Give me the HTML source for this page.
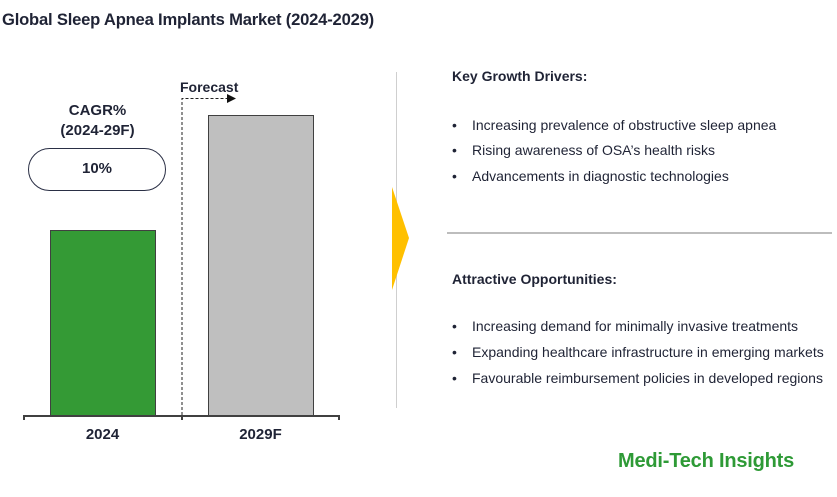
<!DOCTYPE html>
<html><head><style>
body{margin:0;width:837px;height:497px;background:#fff;font-family:"Liberation Sans",Arial,sans-serif;color:#1f2335;position:relative;overflow:hidden}
.t{position:absolute;white-space:nowrap}
.b{font-weight:bold}
.li{position:absolute;left:452px;font-size:14px;white-space:nowrap}
.li span{position:absolute;left:20px}
</style></head><body>
<div class="t b" style="left:2px;top:10px;font-size:16.6px;letter-spacing:-0.2px">Global Sleep Apnea Implants Market (2024-2029)</div>
<svg width="837" height="497" style="position:absolute;left:0;top:0">
<rect x="50.5" y="230.5" width="105" height="185" fill="#349a35" stroke="#404040" stroke-width="1"/>
<rect x="208.5" y="115.5" width="105" height="300" fill="#bfbfbf" stroke="#404040" stroke-width="1"/>
<path d="M24 420 V416 H339 V420 M182 416 V420" fill="none" stroke="#404040" stroke-width="2"/>
<path d="M182 415 V98.5 H228" fill="none" stroke="#222" stroke-width="1" stroke-dasharray="3,2"/>
<polygon points="227,94 236,98.5 227,103" fill="#111"/>
<rect x="28.5" y="148.5" width="137" height="42" rx="21" fill="#fff" stroke="#2a2f45" stroke-width="1"/>
<line x1="396.5" y1="72" x2="396.5" y2="408" stroke="#cfcfcf" stroke-width="1"/>
<polygon points="392,187 409,238 392,290" fill="#ffc000"/>
<line x1="447" y1="233" x2="832" y2="233" stroke="#bdbdbd" stroke-width="2"/>
</svg>
<div class="t b" style="left:180px;top:79px;font-size:14px">Forecast</div>
<div class="t b" style="left:50px;top:101px;width:95px;text-align:center;font-size:15px;line-height:20px">CAGR%<br>(2024-29F)</div>
<div class="t b" style="left:28px;top:160px;width:138px;text-align:center;font-size:15px">10%</div>
<div class="t b" style="left:50px;top:426px;width:105px;text-align:center;font-size:15px">2024</div>
<div class="t b" style="left:208px;top:426px;width:105px;text-align:center;font-size:15px">2029F</div>
<div class="t b" style="left:452px;top:68px;font-size:14px">Key Growth Drivers:</div>
<div class="li" style="top:117px">•<span>Increasing prevalence of obstructive sleep apnea</span></div>
<div class="li" style="top:142px">•<span>Rising awareness of OSA’s health risks</span></div>
<div class="li" style="top:168px">•<span>Advancements in diagnostic technologies</span></div>
<div class="t b" style="left:452px;top:271px;font-size:14px">Attractive Opportunities:</div>
<div class="li" style="top:318px">•<span>Increasing demand for minimally invasive treatments</span></div>
<div class="li" style="top:344px">•<span>Expanding healthcare infrastructure in emerging markets</span></div>
<div class="li" style="top:370px">•<span>Favourable reimbursement policies in developed regions</span></div>
<div class="t b" style="left:618px;top:450px;font-size:20px;color:#2e9a36;letter-spacing:-0.2px">Medi-Tech Insights</div>
</body></html>
